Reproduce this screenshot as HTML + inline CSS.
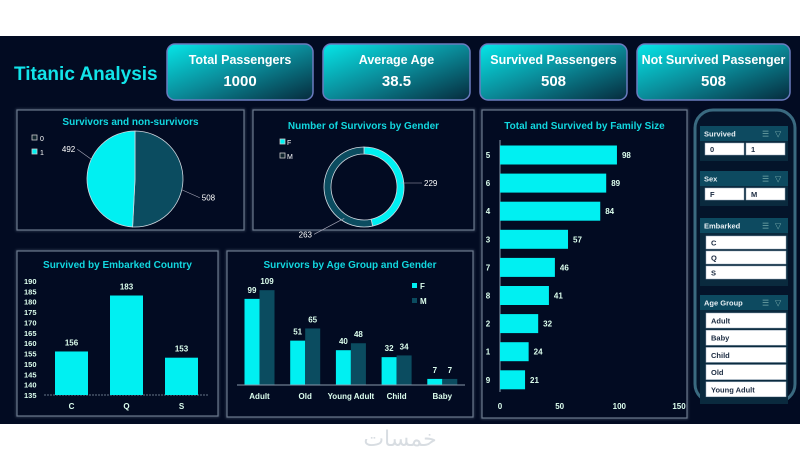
<!DOCTYPE html>
<html><head><meta charset="utf-8">
<style>
html,body{margin:0;padding:0;background:#fff;width:800px;height:460px;overflow:hidden}
svg{display:block;font-family:"Liberation Sans",sans-serif}
</style></head>
<body>
<svg id="s" width="800" height="460" viewBox="0 0 800 460" xmlns="http://www.w3.org/2000/svg">
<defs>
<linearGradient id="kg" x1="0" y1="0" x2="1" y2="1">
<stop offset="0" stop-color="#06e6e8"/><stop offset="0.5" stop-color="#0a8a98"/><stop offset="1" stop-color="#062a3c"/>
</linearGradient>
<filter id="gl"><feGaussianBlur stdDeviation="1.2"/></filter>
</defs>
<rect x="0" y="36" width="800" height="388" fill="#020b22"/>
<text x="14" y="80" font-size="19" font-weight="bold" fill="#12e4ea">Titanic Analysis</text>
<g id="kpis"></g>
<g id="panels"></g>
<g id="charts"></g>
<g id="slicers"></g>
<text x="400" y="446" font-size="22" fill="#d8dde2" text-anchor="middle" font-family="'DejaVu Sans',sans-serif">خمسات</text>
</svg>
<script>
const NS="http://www.w3.org/2000/svg";
function mk(p,t,a,txt){const e=document.createElementNS(NS,t);for(const k in a)e.setAttribute(k,a[k]);if(txt!==undefined)e.textContent=txt;p.appendChild(e);return e;}
const G=id=>document.getElementById(id);
const CY="#00f0f2", DK="#0b4c60", WH="#ffffff";

// KPI data
const kpiTitles=["Total Passengers","Average Age","Survived Passengers","Not Survived Passenger"];
const kpiValues=["1000","38.5","508","508"];
const kpiX=[167,323,480,637], kpiW=[146,147,147,153];
kpiTitles.forEach((t,i)=>{
 const g=mk(G('kpis'),'g',{});
 
 
 mk(g,'rect',{x:kpiX[i],y:44,width:kpiW[i],height:56,rx:8,fill:"url(#kg)",stroke:"#6a7cc0","stroke-width":1.5});
 const a=mk(g,'text',{x:kpiX[i]+kpiW[i]/2,y:64,"font-size":12.5,"font-weight":"bold",fill:WH,"text-anchor":"middle"},t);
 
 
 const b=mk(g,'text',{x:kpiX[i]+kpiW[i]/2,y:86,"font-size":15,"font-weight":"bold",fill:WH,"text-anchor":"middle"},kpiValues[i]);
 
 
});

// Panels
const panels=[[17,110,227,120,"Survivors and non-survivors",125],[253,110,221,120,"Number of Survivors by Gender",129],[482,110,205,308,"Total and Survived by Family Size",129],[17,251,201,165,"Survived by Embarked Country",268],[227,251,246,166,"Survivors by Age Group and Gender",268]];
panels.forEach(p=>{
 const g=mk(G('panels'),'g',{});
 
 
 mk(g,'rect',{x:p[0],y:p[1],width:p[2],height:p[3],fill:"none",stroke:"#8a9ab0","stroke-width":2.5,opacity:0.35,filter:"url(#gl)"});
 mk(g,'rect',{x:p[0],y:p[1],width:p[2],height:p[3],fill:"#020b22",stroke:"#6c7a8e","stroke-width":1.2});
 const t=mk(g,'text',{x:p[0]+p[2]/2,y:p[5],"font-size":10,"font-weight":"bold",fill:"#12d8e0","text-anchor":"middle"},p[4]);
 
 
});
const C=G('charts');

// Pie
const pieCats=["0","1"], pieVals=[508,492], pieCols=[DK,CY];
(function(){
 const cx=135,cy=179,r=48,tot=pieVals.reduce((a,b)=>a+b);let a0=-Math.PI/2;
 pieVals.forEach((v,i)=>{
  const a1=a0+v/tot*2*Math.PI;
  const x0=cx+r*Math.cos(a0),y0=cy+r*Math.sin(a0),x1=cx+r*Math.cos(a1),y1=cy+r*Math.sin(a1);
  const p=mk(C,'path',{d:`M${cx},${cy}L${x0},${y0}A${r},${r} 0 ${a1-a0>Math.PI?1:0} 1 ${x1},${y1}Z`,fill:pieCols[i],stroke:"#d0d8e0","stroke-width":0.8});
  
  
  const m=(a0+a1)/2+ (i==0?0.2:0.4);
  const ex=cx+r*Math.cos(m), ey=cy+r*Math.sin(m);
  const lx=i==0?ex+18:ex-14, ly=i==0?ey+8:ey-10;
  mk(C,'path',{d:`M${ex},${ey}L${lx},${ly}`,stroke:"#aab","stroke-width":0.6,fill:"none"});
  const t=mk(C,'text',{x:lx+(i==0?2:-2),y:ly+3,"font-size":8,fill:WH,"text-anchor":i==0?"start":"end"},v);
  
  
  a0=a1;
 });
 pieCats.forEach((c,i)=>{
  mk(C,'rect',{x:32,y:135+i*14,width:5,height:5,fill:i==0?"#10242e":CY,stroke:"#ccc","stroke-width":0.8});
  const t=mk(C,'text',{x:40,y:141+i*14,"font-size":7,fill:WH},c);
  
  
 });
})();

// Donut
const donutCats=["F","M"], donutVals=[229,263], donutCols=[CY,DK];
(function(){
 const cx=364,cy=187,R=40,r=33,tot=donutVals.reduce((a,b)=>a+b);let a0=-Math.PI/2;
 donutVals.forEach((v,i)=>{
  const a1=a0+v/tot*2*Math.PI,L=a1-a0>Math.PI?1:0;
  const P=(rad,a)=>[cx+rad*Math.cos(a),cy+rad*Math.sin(a)];
  const [x0,y0]=P(R,a0),[x1,y1]=P(R,a1),[x2,y2]=P(r,a1),[x3,y3]=P(r,a0);
  const p=mk(C,'path',{d:`M${x0},${y0}A${R},${R} 0 ${L} 1 ${x1},${y1}L${x2},${y2}A${r},${r} 0 ${L} 0 ${x3},${y3}Z`,fill:donutCols[i],stroke:"#d0d8e0","stroke-width":0.8});
  
  
  const m=(a0+a1)/2+(i==0?0:-0.9);
  const [mx,my]=P(R-3,m);
  const lx=i==0?cx+R+18:cx-R-10, ly=i==0?my:my+16;
  mk(C,'path',{d:`M${mx},${my}L${lx},${ly}`,stroke:"#aab","stroke-width":0.6,fill:"none"});
  const t=mk(C,'text',{x:i==0?lx+2:lx-2,y:ly+3,"font-size":8,fill:WH,"text-anchor":i==0?"start":"end"},v);
  
  
  a0=a1;
 });
 donutCats.forEach((c,i)=>{
  mk(C,'rect',{x:280,y:139+i*14,width:5,height:5,fill:i==0?CY:"#10242e",stroke:"#ccc","stroke-width":0.8});
  const t=mk(C,'text',{x:287,y:145+i*14,"font-size":7,fill:WH},c);
  
  
 });
})();

// Family size horizontal bars
const famCats=["5","6","4","3","7","8","2","1","9"];
const famVals=[98,89,84,57,46,41,32,24,21];
const famTicks=[0,50,100,150];
(function(){
 const x0=500,sc=179/150,y0=155,step=28.1,bh=19;
 const X=v=>x0+v*sc;
 mk(C,'line',{x1:x0,y1:140,x2:x0,y2:392,stroke:"#8899aa","stroke-width":1});
 famCats.forEach((c,i)=>{
  const y=y0+i*step;
  const b=mk(C,'rect',{x:X(0),y:y-bh/2,width:X(famVals[i])-X(0),height:bh,fill:CY});
  
  
  const t=mk(C,'text',{x:X(famVals[i])+5,y:y+3,"font-size":8,"font-weight":"bold",fill:"#dfe"},famVals[i]);
  
  
  const l=mk(C,'text',{x:488,y:y+3,"font-size":8,"font-weight":"bold",fill:"#dfe","text-anchor":"middle"},c);
  
  
 });
 famTicks.forEach(v=>{
  const t=mk(C,'text',{x:X(v),y:409,"font-size":8,"font-weight":"bold",fill:"#dfe","text-anchor":"middle"},v);
  
  
 });
})();

// Embarked bars
const embCats=["C","Q","S"], embVals=[156,183,153];
const embTicks=[135,140,145,150,155,160,165,170,175,180,185,190];
(function(){
 const ymin=135,yb=395,sc=114/55,Y=v=>yb-(v-ymin)*sc;
 const cx0=71.5,step=55,bw=33;
 mk(C,'line',{x1:44,y1:yb,x2:209,y2:yb,stroke:"#8899aa","stroke-width":0.8,"stroke-dasharray":"2,1"});
 embTicks.forEach(v=>{
  const t=mk(C,'text',{x:24,y:Y(v)+3,"font-size":7.5,"font-weight":"bold",fill:"#dfe"},v);
  
  
 });
 embCats.forEach((c,i)=>{
  const cx=cx0+i*step;
  const b=mk(C,'rect',{x:cx-bw/2,y:Y(embVals[i]),width:bw,height:yb-Y(embVals[i]),fill:CY});
  
  
  const t=mk(C,'text',{x:cx,y:Y(embVals[i])-6,"font-size":8,"font-weight":"bold",fill:"#dfe","text-anchor":"middle"},embVals[i]);
  
  
  const l=mk(C,'text',{x:cx,y:409,"font-size":8,"font-weight":"bold",fill:"#dfe","text-anchor":"middle"},c);
  
  
 });
})();

// Age group grouped bars
const ageCats=["Adult","Old","Young Adult","Child","Baby"];
const ageF=[99,51,40,32,7], ageM=[109,65,48,34,7];
(function(){
 const yb=385,sc=0.87,Y=v=>yb-v*sc,cx0=259.5,step=45.7,bw=15;
 ageCats.forEach((c,i)=>{
  const cx=cx0+i*step;
  [[ageF,CY,-1,'F'],[ageM,DK,0,'M']].forEach(([arr,col,off,s])=>{
   const x=cx+off*bw;
   const b=mk(C,'rect',{x:x,y:Y(arr[i]),width:bw,height:yb-Y(arr[i]),fill:col});
   
   
   const t=mk(C,'text',{x:x+bw/2,y:Y(arr[i])-6,"font-size":8,"font-weight":"bold",fill:"#dfe","text-anchor":"middle"},arr[i]);
   
   
  });
  const l=mk(C,'text',{x:cx,y:399,"font-size":8,"font-weight":"bold",fill:"#dfe","text-anchor":"middle"},c);
  
  
 });
 mk(C,'line',{x1:237,y1:yb,x2:465,y2:yb,stroke:"#8899aa","stroke-width":1});
 [["F",CY],["M",DK]].forEach(([s,col],i)=>{
  mk(C,'rect',{x:412,y:283+i*15,width:5,height:5,fill:col});
  const t=mk(C,'text',{x:420,y:289+i*15,"font-size":8,"font-weight":"bold",fill:"#dfe"},s);
  
  
 });
})();

// Slicers
const S=G('slicers');
mk(S,'rect',{x:695,y:110,width:100,height:292,rx:18,fill:"#04142a",stroke:"#3a6a80","stroke-width":3});
const slicers=[
 {t:"Survived",y:126,items:["0","1"],cols:2},
 {t:"Sex",y:171,items:["F","M"],cols:2},
 {t:"Embarked",y:218,items:["C","Q","S"],cols:1},
 {t:"Age Group",y:295,items:["Adult","Baby","Child","Old","Young Adult"],cols:1}];
slicers.forEach(sl=>{
 const g=mk(S,'g',{});
 
 
 const n=sl.cols==2?1:sl.items.length, ih=sl.cols==2?12:(sl.t=="Embarked"?13:15), gap=sl.cols==2?0:(sl.t=="Embarked"?2:2.2);
 mk(g,'rect',{x:700,y:sl.y,width:88,height:15+4+n*(ih+gap)+4,fill:"#0a2a3e"});
 mk(g,'rect',{x:700,y:sl.y,width:88,height:15,fill:"#0d4a60"});
 mk(g,'text',{x:704,y:sl.y+10.5,"font-size":7.5,"font-weight":"bold",fill:"#e8f0f4"},sl.t);
 mk(g,'text',{x:762,y:sl.y+10.5,"font-size":8,fill:"#7aa"},"☰");
 mk(g,'text',{x:775,y:sl.y+10.5,"font-size":8,fill:"#7aa"},"▽");
 sl.items.forEach((it,i)=>{
  let x,y,w;
  if(sl.cols==2){w=39;x=705+i*41;y=sl.y+17;}else{w=80;x=706;y=sl.y+18+i*(ih+gap);}
  const b=mk(g,'rect',{x:x,y:y,width:w,height:ih,fill:"#ffffff",stroke:"#9ab","stroke-width":0.5});
  
  
  mk(g,'text',{x:x+5,y:y+ih/2+3,"font-size":7.5,"font-weight":"bold",fill:"#1a2a40"},it);
 });
});
</script>
</body></html>
